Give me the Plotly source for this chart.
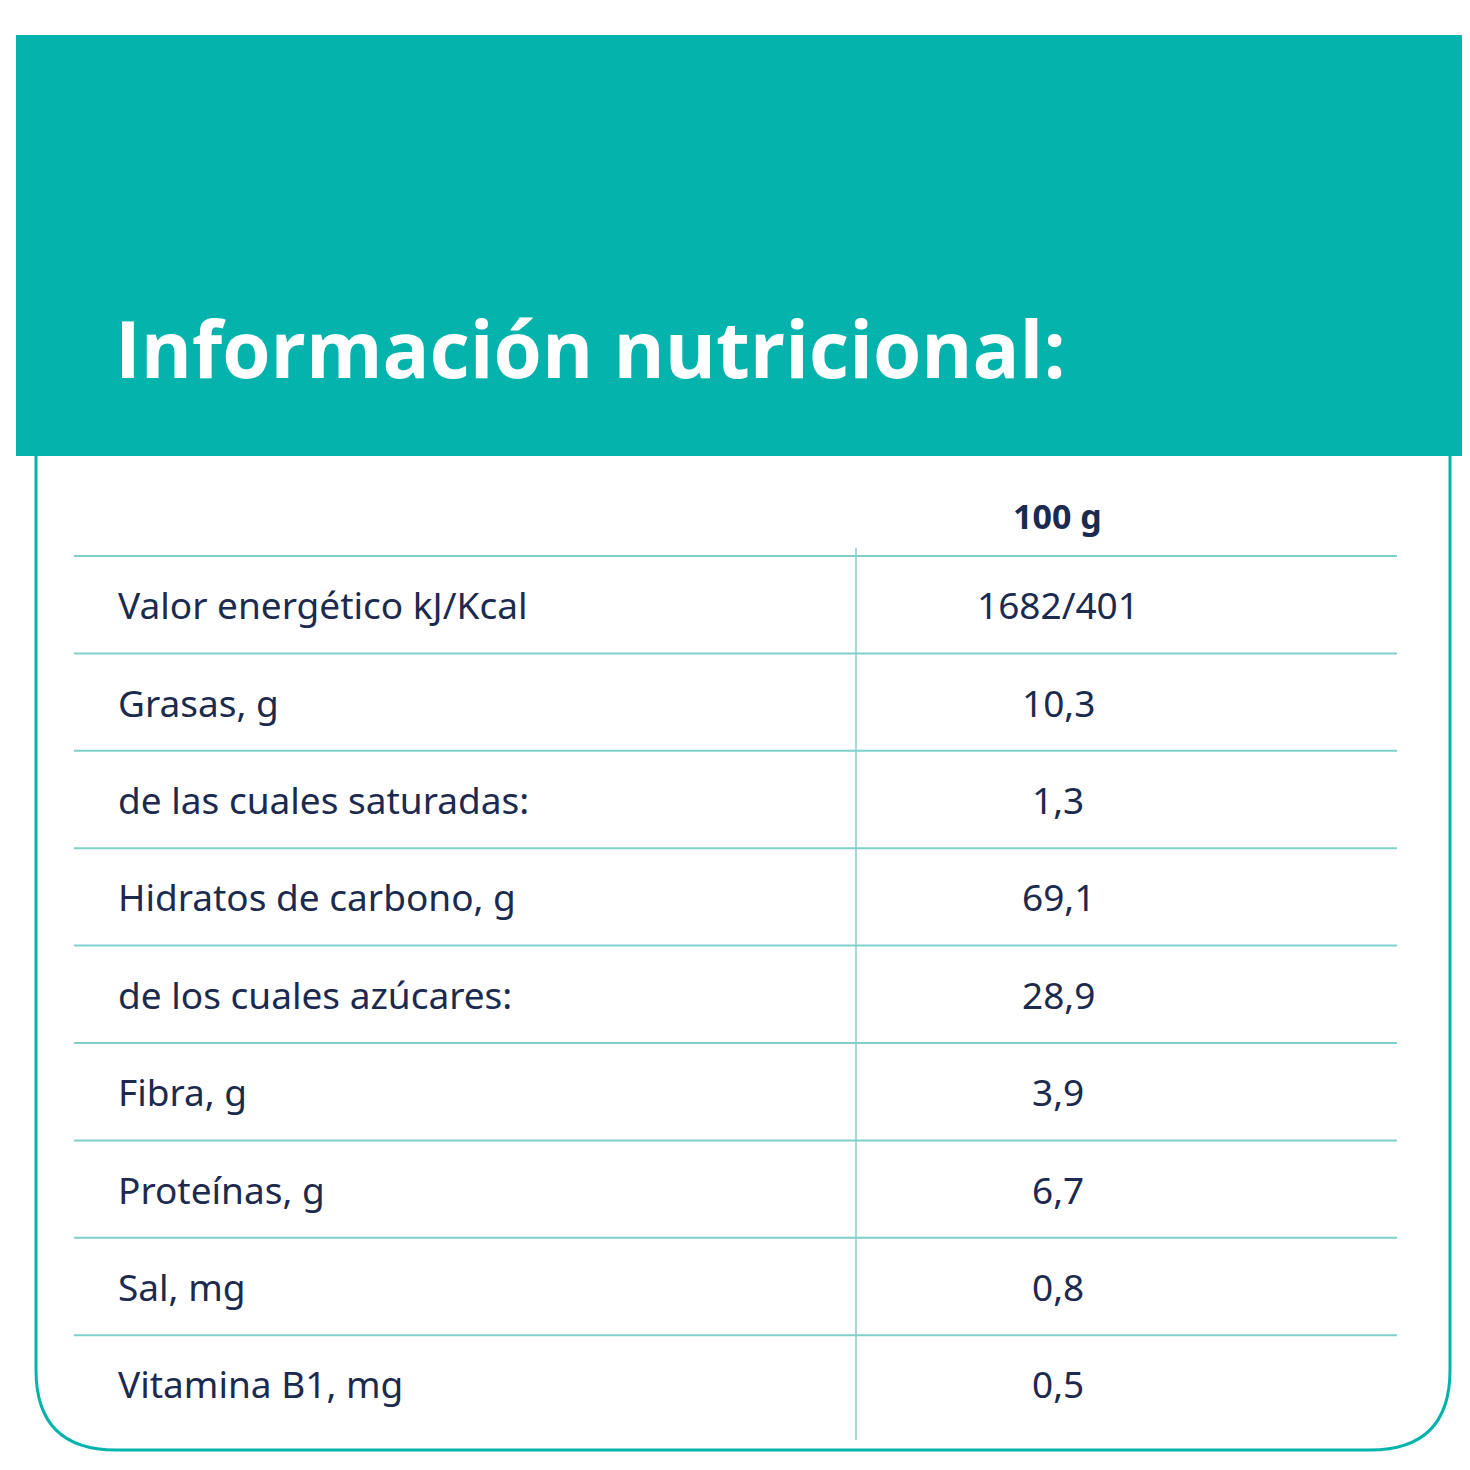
import plotly.graph_objects as go

title = "Información nutricional:"
header = "100 g"
labels = ["Valor energético kJ/Kcal", "Grasas, g", "de las cuales saturadas:",
          "Hidratos de carbono, g", "de los cuales azúcares:", "Fibra, g",
          "Proteínas, g", "Sal, mg", "Vitamina B1, mg"]
values = ["1682/401", "10,3", "1,3", "69,1", "28,9", "3,9", "6,7", "0,8", "0,5"]

TEAL = "#05B3AD"
LINE = "#7FCFCB"
TXT = "#1B2A4E"

fig = go.Figure()
W = 1470
top0, rowh = 548, 97.4
shapes = [
    dict(type="rect", x0=8, x1=1462, y0=27, y1=448, fillcolor=TEAL, line_width=0, layer="below"),
    dict(type="path", path="M 28 448 L 28 1362 Q 28 1442 108 1442 L 1362 1442 Q 1442 1442 1442 1362 L 1442 448",
         line=dict(color=TEAL, width=3)),
    dict(type="line", x0=848, x1=848, y0=540, y1=1432, line=dict(color=LINE, width=1.5)),
]
for i in range(len(labels)):
    y = top0 + i * rowh
    shapes.append(dict(type="line", x0=66, x1=1389, y0=y, y1=y, line=dict(color=LINE, width=2)))
ann = [dict(x=105, y=340, text=f"<b>{title}</b>", showarrow=False, xanchor="left", yanchor="middle",
            font=dict(family="Open Sans", size=78, color="white")),
       dict(x=1049, y=508, text=f"<b>{header}</b>", showarrow=False, xanchor="center", yanchor="middle",
            font=dict(family="Noto Sans", size=34, color=TXT))]
for i, (l, v) in enumerate(zip(labels, values)):
    yc = top0 + (i + 0.5) * rowh
    ann.append(dict(x=108, y=yc, text=l, showarrow=False, xanchor="left", yanchor="middle",
                    font=dict(family="Noto Sans", size=37, color=TXT)))
    ann.append(dict(x=1050, y=yc, text=v, showarrow=False, xanchor="center", yanchor="middle",
                    font=dict(family="Noto Sans", size=37, color=TXT)))

fig.update_layout(width=W, height=W, margin=dict(l=0, r=0, t=0, b=0),
                  paper_bgcolor="white", plot_bgcolor="white", shapes=shapes, annotations=ann,
                  xaxis=dict(range=[0, W], visible=False),
                  yaxis=dict(range=[W, 0], visible=False), showlegend=False)
fig.write_html("out.html")
